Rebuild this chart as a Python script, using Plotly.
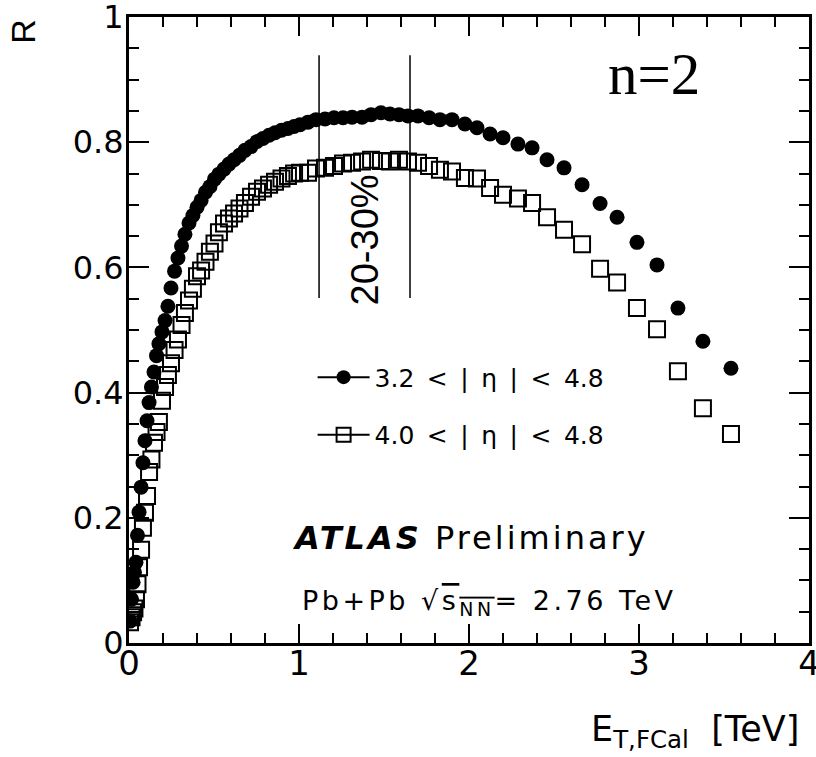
import plotly.graph_objects as go

# Forward calorimeter transverse energy (TeV), one entry per centrality bin
et_fcal = [
    0.006, 0.015, 0.024, 0.032, 0.041, 0.050, 0.059, 0.071, 0.082, 0.094,
    0.106, 0.118, 0.132, 0.147, 0.162, 0.176, 0.194, 0.212, 0.229, 0.247,
    0.268, 0.288, 0.309, 0.329, 0.353, 0.376, 0.400, 0.424, 0.450, 0.476,
    0.503, 0.529, 0.559, 0.588, 0.618, 0.650, 0.682, 0.718, 0.753, 0.788,
    0.824, 0.859, 0.897, 0.935, 0.971, 1.006, 1.053, 1.100, 1.153, 1.206,
    1.259, 1.312, 1.371, 1.424, 1.482, 1.535, 1.588, 1.641, 1.700, 1.765,
    1.829, 1.900, 1.976, 2.047, 2.124, 2.200, 2.288, 2.371, 2.459, 2.559,
    2.665, 2.771, 2.871, 2.988, 3.106, 3.229, 3.376, 3.541,
]

# Resolution factor R, reference window 3.2 < |eta| < 4.8
r_eta32 = [
    0.035, 0.070, 0.097, 0.113, 0.129, 0.172, 0.209, 0.249, 0.288, 0.323,
    0.355, 0.384, 0.409, 0.433, 0.459, 0.478, 0.497, 0.515, 0.538, 0.567,
    0.594, 0.615, 0.634, 0.653, 0.671, 0.683, 0.696, 0.707, 0.720, 0.729,
    0.741, 0.749, 0.757, 0.765, 0.772, 0.779, 0.787, 0.793, 0.801, 0.806,
    0.811, 0.815, 0.819, 0.822, 0.825, 0.828, 0.832, 0.836, 0.837, 0.839,
    0.839, 0.840, 0.840, 0.844, 0.847, 0.845, 0.844, 0.842, 0.842, 0.839,
    0.836, 0.836, 0.829, 0.823, 0.813, 0.807, 0.797, 0.791, 0.772, 0.759,
    0.732, 0.702, 0.680, 0.640, 0.604, 0.535, 0.482, 0.439,
]

# Resolution factor R, reference window 4.0 < |eta| < 4.8
r_eta40 = [
    0.033, 0.041, 0.049, 0.055, 0.070, 0.094, 0.121, 0.149, 0.184, 0.208,
    0.235, 0.273, 0.293, 0.320, 0.337, 0.353, 0.387, 0.409, 0.428, 0.447,
    0.468, 0.485, 0.508, 0.527, 0.547, 0.566, 0.586, 0.595, 0.609, 0.625,
    0.638, 0.656, 0.670, 0.678, 0.686, 0.694, 0.703, 0.713, 0.721, 0.726,
    0.732, 0.737, 0.742, 0.746, 0.750, 0.751, 0.751, 0.758, 0.759, 0.762,
    0.766, 0.767, 0.769, 0.772, 0.770, 0.769, 0.772, 0.769, 0.767, 0.762,
    0.756, 0.753, 0.743, 0.742, 0.727, 0.716, 0.710, 0.703, 0.680, 0.660,
    0.637, 0.598, 0.576, 0.535, 0.501, 0.434, 0.375, 0.334,
]

# Legend labels (en spaces keep the wide ROOT-style spacing)
series_names = [
    "3.2\u2002<\u2002|\u2002η\u2002|\u2002<\u20024.8",
    "4.0\u2002<\u2002|\u2002η\u2002|\u2002<\u20024.8",
]

# 20-30% centrality window edges in E_T and vertical extent of the markers
centrality_edges = [1.118, 1.653]
centrality_r_span = [0.551, 0.939]
centrality_label = "20-30%"

x_tick_vals = [0, 1, 2, 3, 4]
x_tick_text = ["0", "1", "2", "3", "4"]
y_tick_vals = [0, 0.2, 0.4, 0.6, 0.8, 1.0]
y_tick_text = ["0", "0.2", "0.4", "0.6", "0.8", "1"]

SANS = "DejaVu Sans"
ARIAL = "Liberation Sans"


def spaced(text, px):
    return f"<span style='letter-spacing:{px}px'>{text}</span>"


fig = go.Figure()

fig.add_trace(go.Scatter(
    x=et_fcal, y=r_eta32, mode="markers", showlegend=False,
    marker=dict(symbol="circle", size=15, color="black", line=dict(width=0)),
))
fig.add_trace(go.Scatter(
    x=et_fcal, y=r_eta40, mode="markers", showlegend=False,
    marker=dict(symbol="square-open", size=16, color="black", line=dict(width=2, color="black")),
))

# Legend entries drawn in the line+marker style
fig.add_trace(go.Scatter(
    x=[None], y=[None], mode="lines+markers", name=series_names[0], legendgroup="a",
    line=dict(color="black", width=2),
    marker=dict(symbol="circle", size=14, color="black"),
))
fig.add_trace(go.Scatter(
    x=[None], y=[None], mode="lines+markers", name=series_names[1], legendgroup="b",
    line=dict(color="black", width=2),
    marker=dict(symbol="square-open", size=14, color="black", line=dict(width=2, color="black")),
))

for edge in centrality_edges:
    fig.add_shape(type="line", xref="x", yref="y",
                  x0=edge, x1=edge, y0=centrality_r_span[0], y1=centrality_r_span[1],
                  line=dict(color="black", width=1.5))

annotations = [
    dict(text=centrality_label, x=sum(centrality_edges) / 2, y=0.644, xref="x", yref="paper",
         xanchor="center", yanchor="middle",
         textangle=-90, showarrow=False, font=dict(family=ARIAL, size=38, color="black")),
    dict(text="n=2", x=0.772, y=0.909, xref="paper", yref="paper", showarrow=False,
         xanchor="center", yanchor="middle",
         font=dict(family="Liberation Serif", size=59, color="black")),
    dict(text=spaced("<b><i>ATLAS</i></b> Preliminary", 3), x=0.237, y=0.168,
         xref="paper", yref="paper",
         xanchor="left", yanchor="middle", showarrow=False,
         font=dict(family=SANS, size=32, color="black")),
    dict(text=spaced("Pb+Pb √<span style='text-decoration:overline'>s<sub>NN</sub></span>= 2.76 TeV", 3.5),
         x=0.251, y=0.064, xref="paper", yref="paper",
         xanchor="left", yanchor="middle", showarrow=False,
         font=dict(family=SANS, size=27, color="black")),
    dict(text="R", x=-0.157, y=1.0, xref="paper", yref="paper", textangle=-90,
         xanchor="center", yanchor="top", showarrow=False,
         font=dict(family=ARIAL, size=34, color="black")),
    dict(text="E<sub>T,FCal</sub>  [TeV]", x=0.988, y=-0.141, xref="paper", yref="paper",
         xanchor="right", yanchor="middle", showarrow=False,
         font=dict(family=SANS, size=35, color="black")),
]

axis_common = dict(
    showgrid=False, zeroline=False, showline=True, linecolor="black", linewidth=3,
    mirror="ticks", ticks="inside", tickcolor="black", tickwidth=2,
    ticklabeloverflow="allow", automargin=False,
)

fig.update_layout(
    width=816, height=757,
    margin=dict(l=129, r=7, t=17, b=114),
    paper_bgcolor="white", plot_bgcolor="white",
    font=dict(family=SANS, color="black"),
    xaxis=dict(range=[0, 4], tickvals=x_tick_vals, ticktext=x_tick_text, ticklen=19,
               tickfont=dict(family=SANS, size=34), ticklabelstandoff=-12,
               minor=dict(dtick=0.2, ticklen=10, tickwidth=2, tickcolor="black", ticks="inside"),
               **axis_common),
    yaxis=dict(range=[0, 1], tickvals=y_tick_vals, ticktext=y_tick_text, ticklen=20,
               tickfont=dict(family=SANS, size=32), ticklabelstandoff=-4,
               minor=dict(dtick=0.05, ticklen=10, tickwidth=2, tickcolor="black", ticks="inside"),
               **axis_common),
    legend=dict(x=0.27, y=0.461, xanchor="left", yanchor="top",
                font=dict(family=SANS, size=25, color="black"),
                bgcolor="rgba(0,0,0,0)", itemwidth=52, tracegroupgap=22),
    annotations=annotations,
    showlegend=True,
)

fig.write_html("out.html")
